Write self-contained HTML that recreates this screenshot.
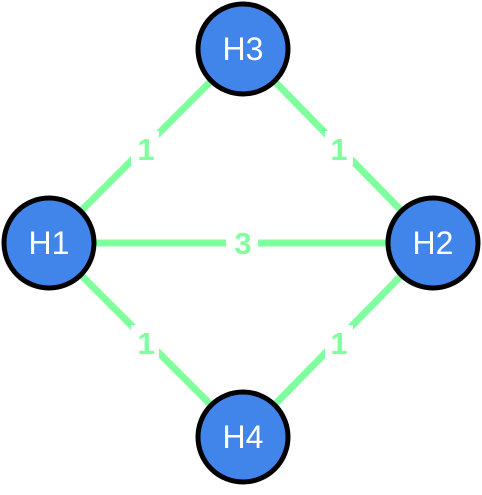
<!DOCTYPE html>
<html><head><style>body{margin:0;background:#fff}</style></head><body>
<svg width="482" height="490" xmlns="http://www.w3.org/2000/svg" font-family="Liberation Sans, sans-serif">
<g stroke="#80ff9f" stroke-width="7">
<line x1="49" y1="243" x2="243" y2="49"/>
<line x1="243" y1="49" x2="433" y2="243"/>
<line x1="49" y1="243" x2="433" y2="243"/>
<line x1="49" y1="243" x2="243" y2="437"/>
<line x1="433" y1="243" x2="243" y2="437"/>
</g>
<g fill="#fff">
<rect x="131" y="131" width="28" height="34"/>
<rect x="325" y="131" width="28" height="34"/>
<rect x="226" y="226" width="32" height="34"/>
<rect x="131" y="325" width="28" height="34"/>
<rect x="325" y="325" width="28" height="34"/>
</g>
<g fill="#80ff9f" font-size="31" font-weight="bold" text-anchor="middle">
<text x="146" y="160">1</text>
<text x="339" y="160">1</text>
<text x="243" y="254">3</text>
<text x="146" y="354">1</text>
<text x="339" y="354">1</text>
</g>
<g fill="#4285ea" stroke="#000" stroke-width="5">
<circle cx="243" cy="49" r="45"/>
<circle cx="49" cy="243" r="45"/>
<circle cx="433" cy="243" r="45"/>
<circle cx="243" cy="437" r="45"/>
</g>
<g fill="#fff" font-size="32" text-anchor="middle">
<text x="243" y="60">H3</text>
<text x="49" y="254">H1</text>
<text x="433" y="254">H2</text>
<text x="243" y="448">H4</text>
</g>
</svg>
</body></html>
